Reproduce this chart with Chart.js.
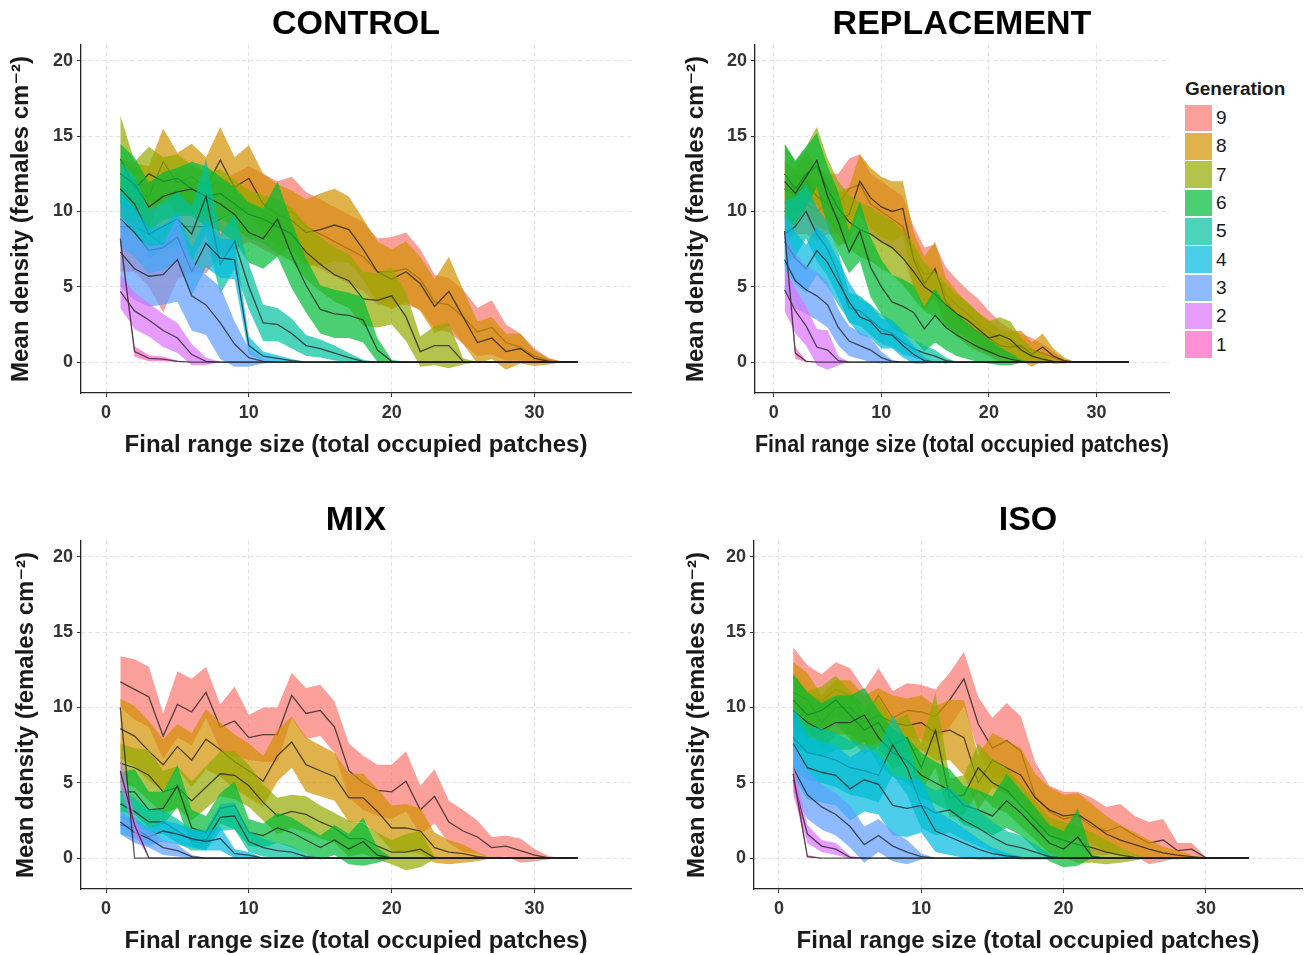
<!DOCTYPE html>
<html>
<head>
<meta charset="utf-8">
<title>Mean density vs final range size</title>
<script src="https://cdn.jsdelivr.net/npm/chart.js@4.4.1/dist/chart.umd.min.js"></script>
<style>
  html, body { margin: 0; padding: 0; background: #fff; }
  body { position: relative; width: 1306px; height: 955px; overflow: hidden;
         font-family: "Liberation Sans", Arial, sans-serif; }
  .panel { position: absolute; }
  #legend { position: absolute; left: 1185px; top: 78px; color: #1a1a1a; }
  #legend .ttl { font-size: 19px; font-weight: bold; height: 26px; line-height: 22px; }
  #legend .row { display: flex; align-items: center; height: 28.3px; }
  #legend .key { width: 27px; height: 26.5px; margin-right: 4px; }
  #legend .lab { font-size: 19px; }
</style>
</head>
<body>
<canvas id="control" class="panel" width="660" height="460" style="left:0;top:0"></canvas>
<canvas id="replacement" class="panel" width="500" height="460" style="left:675px;top:0"></canvas>
<canvas id="mix" class="panel" width="655" height="460" style="left:5px;top:496px"></canvas>
<canvas id="iso" class="panel" width="630" height="460" style="left:676px;top:496px"></canvas>
<div id="legend"><div class="ttl">Generation</div></div>

<script>
const FONT = '"Liberation Sans", "DejaVu Sans", Arial, sans-serif';

const generations = [1, 2, 3, 4, 5, 6, 7, 8, 9];
const genColors = ['#FF61C3', '#DB72FB', '#619CFF', '#00B9E3', '#00C19F',
                   '#00BA38', '#93AA00', '#D39200', '#F8766D'];
const xTicks = [0, 10, 20, 30];
const yTicks = [0, 5, 10, 15, 20];
const lastRangeSize = 33; // every mean line sits at 0 out to here

// mean density for range size 1, 2, 3 ... (one row per generation 1..9)
// and the half width of the ribbon around it
const controlMean = [
  [8.2, 0.7, 0.25, 0.2, 0.05],
  [4.7, 3.4, 2.8, 2.1, 1.6, 0.5, 0.05],
  [7.3, 6.2, 5.7, 5.8, 6.8, 4.4, 3.8, 2.6, 1.2, 0.3, 0.05],
  [9.5, 8.6, 7.4, 7.6, 8.3, 6.0, 7.9, 6.9, 6.8, 1.1, 0.4, 0.25, 0.1],
  [11.5, 10.5, 8.5, 9.0, 9.5, 8.5, 11.0, 6.5, 8.0, 5.0, 2.6, 2.5, 1.9, 1.1, 0.9, 0.6, 0.3, 0.05],
  [12.5, 11.8, 10.3, 11.0, 11.3, 11.5, 11.0, 10.5, 9.8, 8.6, 8.2, 9.5, 7.1, 5.1, 3.5, 3.2, 3.1, 2.8, 0.8, 0.05],
  [13.5, 11.5, 12.5, 12.0, 12.2, 11.5, 11.0, 11.2, 10.5, 9.8, 9.5, 9.0, 8.5, 7.3, 6.5, 5.8, 5.4, 4.2, 4.1, 4.4, 3.0, 0.7, 1.1, 1.1, 0.05],
  [11.5, 11.2, 11.0, 13.3, 11.9, 12.3, 11.6, 13.4, 11.6, 12.2, 10.5, 9.8, 9.4, 8.6, 8.8, 9.1, 8.8, 7.5, 6.0, 5.5, 6.0, 5.2, 3.7, 4.7, 3.0, 1.3, 1.6, 0.7, 0.9, 0.25, 0.05],
  [9.0, 9.0, 8.5, 7.8, 9.0, 9.0, 9.0, 9.5, 10.0, 10.5, 10.0, 9.5, 10.0, 9.0, 8.5, 8.0, 7.5, 7.0, 6.0, 6.0, 6.2, 5.5, 4.0, 3.8, 3.0, 2.0, 2.3, 1.3, 1.0, 0.4, 0.1]
];
const controlSpread = [
  [0.3, 0.35, 0.2, 0.15, 0.05],
  [1.1, 1.2, 1.1, 1.1, 1.0, 0.7, 0.25],
  [2.3, 2.1, 2.0, 2.0, 2.8, 2.3, 2.0, 2.4, 1.5, 0.6, 0.15],
  [1.8, 1.6, 1.5, 1.5, 1.6, 1.6, 1.6, 1.3, 1.3, 0.6, 0.3, 0.2, 0.1],
  [1.8, 1.8, 1.6, 1.6, 1.8, 1.8, 2.5, 2.0, 1.8, 1.5, 1.2, 1.1, 1.0, 0.7, 0.6, 0.5, 0.3, 0.1],
  [2.0, 1.8, 1.6, 1.6, 1.6, 1.8, 2.0, 1.8, 1.8, 2.0, 2.0, 2.5, 2.2, 1.8, 1.6, 1.6, 1.5, 1.5, 0.8, 0.1],
  [2.9, 1.8, 1.8, 1.6, 1.6, 1.6, 1.6, 1.6, 1.6, 1.6, 1.6, 1.8, 1.8, 1.8, 1.8, 1.8, 1.8, 1.8, 1.8, 1.9, 1.6, 1.0, 1.3, 1.5, 0.2],
  [2.0, 2.0, 2.0, 2.2, 2.0, 2.2, 2.0, 2.2, 2.0, 2.2, 2.0, 2.0, 2.0, 2.2, 2.4, 2.4, 2.2, 2.0, 2.0, 2.0, 2.0, 1.8, 1.8, 2.3, 1.8, 1.4, 1.4, 1.2, 1.0, 0.5, 0.2],
  [3.0, 3.0, 3.5, 4.5, 3.5, 3.0, 3.1, 2.5, 2.5, 2.5, 2.5, 2.5, 2.3, 2.3, 2.3, 2.3, 2.3, 2.3, 2.2, 2.3, 2.4, 2.0, 1.8, 1.8, 1.8, 1.6, 1.8, 1.2, 0.9, 0.5, 0.15]
];

const replacementMean = [
  [8.7, 0.6, 0.05],
  [4.8, 3.4, 2.4, 1.0, 0.8, 0.1],
  [6.8, 5.4, 4.8, 4.4, 3.8, 2.3, 1.4, 1.1, 0.8, 0.3, 0.05],
  [8.0, 6.9, 6.2, 7.4, 6.6, 5.3, 4.0, 3.0, 2.7, 1.9, 1.8, 1.1, 0.5, 0.1],
  [8.5, 9.0, 10.0, 8.5, 7.5, 5.8, 3.6, 3.4, 2.8, 2.2, 1.9, 1.3, 0.9, 0.6, 0.4, 0.1],
  [12.0, 11.2, 12.3, 13.4, 11.0, 9.3, 7.3, 8.7, 6.3, 5.0, 4.0, 3.7, 3.3, 2.2, 3.1, 2.3, 1.8, 1.4, 1.0, 0.7, 0.4, 0.2, 0.05],
  [12.5, 11.5, 12.5, 13.0, 11.5, 10.2, 9.3, 8.8, 8.5, 8.0, 7.6, 6.9, 6.0, 5.0, 4.5, 3.8, 3.2, 2.8, 2.2, 1.6, 1.8, 1.5, 0.8, 0.4, 0.2, 0.05],
  [11.5, 11.0, 12.0, 11.0, 10.5, 9.5, 9.8, 12.0, 10.9, 10.3, 10.0, 10.2, 6.8, 5.2, 6.2, 4.0, 3.2, 2.5, 2.0, 1.6, 1.1, 1.0, 1.1, 0.5, 1.0, 0.4, 0.1],
  [10.0, 10.5, 10.5, 10.0, 10.5, 10.5, 11.5, 11.8, 10.5, 10.0, 9.5, 9.0, 7.0, 5.8, 6.0, 4.5, 3.8, 3.2, 2.6, 2.0, 1.5, 1.2, 1.0, 0.8, 0.6, 0.3, 0.05]
];
const replacementSpread = [
  [0.3, 0.4, 0.05],
  [1.4, 1.5, 1.3, 1.2, 1.3, 0.3],
  [2.0, 1.8, 1.6, 1.6, 1.5, 1.2, 1.0, 0.9, 0.8, 0.4, 0.1],
  [1.8, 1.7, 1.6, 1.6, 1.6, 1.5, 1.3, 1.2, 1.1, 1.0, 0.9, 0.8, 0.6, 0.2],
  [2.2, 2.0, 1.8, 1.8, 1.8, 1.5, 1.0, 1.0, 1.0, 1.0, 0.9, 0.8, 0.6, 0.5, 0.4, 0.2],
  [2.5, 2.2, 2.0, 1.8, 2.0, 2.0, 1.4, 2.0, 2.0, 1.8, 1.8, 1.8, 1.8, 1.5, 1.8, 1.5, 1.4, 1.2, 1.0, 0.8, 0.6, 0.4, 0.1],
  [2.0, 1.8, 1.8, 2.6, 2.0, 1.8, 1.8, 1.8, 1.8, 1.8, 1.8, 1.8, 1.8, 1.6, 1.5, 1.4, 1.3, 1.2, 1.1, 1.1, 1.2, 1.2, 0.8, 0.5, 0.3, 0.1],
  [1.8, 1.8, 2.0, 2.0, 1.8, 1.8, 1.8, 1.8, 2.0, 2.0, 2.0, 1.8, 1.8, 1.8, 1.8, 1.6, 1.5, 1.4, 1.3, 1.2, 1.1, 1.0, 1.0, 0.8, 0.9, 0.5, 0.2],
  [2.0, 2.0, 2.0, 2.0, 2.0, 2.0, 2.0, 2.0, 2.0, 2.0, 2.0, 2.0, 2.0, 1.8, 1.8, 1.8, 1.7, 1.6, 1.6, 1.4, 1.2, 1.0, 0.9, 0.8, 0.6, 0.4, 0.1]
];

const mixMean = [
  [10.0, 0],
  [5.8, 2.2, 0.02],
  [2.4, 1.7, 1.3, 0.7, 0.5, 0.1],
  [2.2, 2.0, 1.4, 1.8, 1.6, 1.3, 1.1, 1.3, 0.3, 0.2],
  [3.6, 3.1, 2.4, 2.4, 1.8, 1.2, 1.2, 2.7, 2.8, 1.1, 0.7, 0.5, 0.4, 0.1],
  [4.4, 4.4, 3.2, 3.3, 4.8, 2.0, 1.7, 3.3, 3.5, 1.7, 1.5, 2.0, 1.7, 1.2, 0.7, 1.2, 0.6, 1.1, 0.2],
  [6.3, 6.0, 5.5, 4.4, 4.7, 3.8, 4.7, 5.6, 5.5, 4.8, 3.7, 2.8, 3.1, 2.9, 2.4, 2.0, 1.3, 1.3, 0.8, 0.4, 0.4, 0.6, 0.02],
  [8.6, 8.1, 7.1, 6.2, 7.4, 6.5, 7.9, 7.2, 6.4, 5.8, 5.1, 6.8, 7.7, 6.2, 5.8, 5.4, 4.0, 4.0, 3.1, 2.0, 2.0, 1.8, 0.7, 0.4, 0.3, 0.1],
  [11.7, 11.2, 10.7, 8.1, 10.2, 9.7, 11.0, 8.7, 9.1, 8.0, 8.2, 8.2, 10.8, 9.6, 9.8, 8.7, 5.8, 5.0, 4.5, 4.4, 5.1, 3.2, 4.1, 2.4, 1.8, 1.4, 0.7, 0.8, 0.5, 0.2, 0.02]
];
const mixSpread = [
  [0, 0],
  [1.0, 0.6, 0.02],
  [0.8, 0.7, 0.6, 0.5, 0.4, 0.1],
  [0.6, 0.7, 0.6, 0.7, 0.7, 0.6, 0.6, 0.8, 0.3, 0.2],
  [0.9, 0.9, 0.8, 0.8, 0.8, 0.7, 0.7, 0.9, 0.9, 0.7, 0.6, 0.5, 0.4, 0.2],
  [1.3, 1.5, 1.2, 1.1, 1.4, 1.2, 1.1, 1.0, 1.6, 0.9, 0.8, 1.0, 1.0, 0.9, 0.8, 1.0, 1.0, 1.6, 0.5],
  [1.3, 1.3, 1.7, 1.4, 1.4, 1.3, 1.4, 1.5, 1.6, 1.4, 1.2, 1.2, 1.1, 1.2, 1.1, 1.0, 1.2, 1.0, 0.9, 0.8, 1.2, 1.2, 0.1],
  [2.0, 2.0, 2.0, 1.7, 1.5, 1.8, 2.0, 1.8, 1.8, 1.8, 1.7, 1.7, 1.7, 1.8, 1.7, 1.6, 1.6, 1.6, 1.5, 1.5, 1.6, 1.5, 1.0, 0.8, 0.6, 0.3],
  [1.7, 2.0, 2.0, 1.5, 2.2, 2.2, 1.7, 1.5, 2.3, 1.5, 1.8, 1.8, 1.5, 1.7, 1.7, 1.7, 1.8, 1.8, 1.7, 1.8, 2.0, 1.6, 1.8, 1.4, 1.4, 1.1, 0.7, 0.7, 0.8, 0.4, 0.1]
];

const isoMean = [
  [5.6, 0.1],
  [5.2, 1.6, 0.8, 0.6, 0.05],
  [6.0, 4.2, 3.4, 2.9, 2.1, 0.9, 1.5, 0.8, 0.4, 0.1],
  [7.6, 6.0, 5.7, 5.5, 4.6, 5.2, 4.9, 3.5, 3.3, 3.5, 1.8, 1.4, 1.0, 0.6, 0.3, 0.15, 0.05],
  [8.0, 7.0, 6.8, 6.5, 6.0, 5.8, 5.5, 7.5, 6.0, 3.5, 3.0, 3.2, 2.5, 2.0, 1.4, 0.9, 0.7, 0.4, 0.1],
  [9.8, 9.0, 8.5, 9.0, 9.0, 9.5, 8.0, 7.0, 6.5, 5.5, 5.0, 4.5, 3.5, 3.2, 2.8, 3.8, 3.0, 2.0, 1.0, 0.6, 1.4, 0.1],
  [10.5, 9.5, 9.8, 10.5, 9.5, 8.5, 9.0, 7.5, 8.0, 6.0, 8.5, 4.0, 4.2, 6.0, 5.0, 4.5, 3.5, 2.5, 1.5, 1.2, 0.9, 0.7, 0.4, 0.2, 0.05],
  [11.0, 10.5, 9.0, 10.0, 10.0, 9.0, 9.5, 9.0, 8.8, 9.0, 8.3, 8.5, 8.0, 5.0, 6.5, 6.0, 5.5, 4.0, 3.2, 2.8, 2.9, 2.3, 1.6, 1.2, 0.9, 0.6, 0.35, 0.2, 0.1],
  [12.0, 11.0, 10.4, 11.2, 10.8, 9.4, 10.8, 9.3, 9.8, 9.7, 9.4, 10.5, 11.9, 8.9, 7.3, 7.8, 7.1, 4.1, 3.1, 2.6, 2.8, 2.1, 1.8, 2.1, 1.5, 1.0, 1.2, 0.5, 0.6, 0.02]
];
const isoSpread = [
  [0.7, 0.1],
  [1.0, 0.6, 0.4, 0.4, 0.1],
  [1.6, 1.6, 1.5, 1.4, 1.4, 1.2, 1.1, 1.0, 0.8, 0.2],
  [2.2, 2.1, 2.0, 2.0, 2.1, 2.1, 2.0, 2.0, 1.9, 1.8, 1.4, 1.2, 1.0, 0.7, 0.4, 0.2, 0.05],
  [2.0, 1.8, 1.8, 1.8, 1.8, 1.8, 1.8, 2.0, 1.8, 1.5, 1.5, 1.5, 1.3, 1.2, 1.0, 0.9, 0.8, 0.5, 0.2],
  [2.4, 2.0, 1.8, 1.8, 1.8, 1.8, 1.8, 1.6, 1.5, 1.5, 1.4, 1.4, 1.3, 1.3, 1.3, 1.8, 1.5, 1.4, 1.2, 1.2, 1.9, 0.1],
  [1.8, 1.6, 1.6, 1.6, 1.6, 1.6, 1.6, 1.6, 1.6, 1.6, 2.5, 1.3, 1.3, 1.6, 1.6, 1.5, 1.4, 1.3, 1.2, 1.2, 1.2, 1.0, 0.8, 0.5, 0.2],
  [2.0, 1.8, 1.8, 1.8, 1.8, 1.8, 1.8, 1.8, 1.8, 1.8, 1.8, 2.0, 2.5, 1.8, 1.8, 1.8, 1.8, 1.6, 1.5, 1.4, 1.4, 1.3, 1.2, 1.0, 0.8, 0.6, 0.4, 0.3, 0.1],
  [2.0, 1.8, 1.8, 1.8, 1.8, 1.8, 1.8, 1.8, 1.8, 1.8, 1.8, 1.8, 1.8, 1.8, 2.0, 2.5, 2.3, 2.3, 1.7, 1.8, 1.6, 1.9, 1.6, 1.5, 1.3, 1.4, 1.4, 0.5, 0.4, 0.05]
];

function rgba(hex, a) {
  const n = parseInt(hex.slice(1), 16);
  return `rgba(${n >> 16},${(n >> 8) & 255},${n & 255},${a})`;
}

// ribbon = lower line + upper line filled down to it, then the mean line;
// generation 9 is drawn first, generation 1 ends up on top
function buildDatasets(means, spreads) {
  const sets = [];
  generations.forEach((g, i) => {
    const m = means[i], s = spreads[i];
    const mean = [], lo = [], hi = [];
    for (let x = 1; x <= lastRangeSize; x++) {
      const v = m[x - 1] ?? 0;
      const d = s[x - 1] ?? 0;
      mean.push({x, y: v});
      lo.push({x, y: v - d});
      hi.push({x, y: v + d});
    }
    sets.push({label: 'lo' + g, data: lo, borderColor: 'transparent', borderWidth: 0,
               pointRadius: 0, fill: false, order: 2 * g + 1});
    sets.push({label: 'Gen ' + g, data: hi, borderColor: 'transparent', borderWidth: 0,
               backgroundColor: rgba(genColors[i], 0.7), pointRadius: 0, fill: '-1', order: 2 * g + 1});
    sets.push({label: 'mean' + g, data: mean, borderColor: 'rgba(30,30,30,0.75)', borderWidth: 1.3,
               pointRadius: 0, fill: false, order: 2 * g});
  });
  return sets;
}

const tickFont = {family: FONT, size: 18, weight: 'bold'};
const titleFont = {family: FONT, size: 24, weight: 'bold'};

function makePanel(id, name, means, spreads, yWidth, padRight) {
  new Chart(document.getElementById(id), {
    type: 'line',
    data: {datasets: buildDatasets(means, spreads)},
    options: {
      responsive: false,
      animation: false,
      events: [],
      layout: {padding: {left: 0, right: padRight, top: 0, bottom: 0}},
      plugins: {
        legend: {display: false},
        tooltip: {enabled: false},
        title: {display: true, text: name, fullSize: false, color: '#000',
                font: {family: FONT, size: 34, weight: 'bold'}, padding: {top: 4.1, bottom: 0.1}}
      },
      scales: {
        x: {
          type: 'linear', min: -1.75, max: 36.75,
          afterBuildTicks: ax => { ax.ticks = xTicks.map(v => ({value: v})); },
          afterFit: ax => { ax.height = 67; },
          ticks: {font: tickFont, color: '#333', padding: 5, maxRotation: 0, autoSkip: false},
          grid: {color: '#e2e2e2', lineWidth: 1, tickColor: '#333', tickLength: 4, tickWidth: 1},
          border: {color: '#222', width: 1.3, dash: [4, 3]},
          title: {display: true, text: 'Final range size (total occupied patches)', color: '#1a1a1a',
                  font: titleFont, padding: {top: 0, bottom: 0.6}}
        },
        y: {
          type: 'linear', min: -2.05, max: 21.05,
          afterBuildTicks: ax => { ax.ticks = yTicks.map(v => ({value: v})); },
          afterFit: ax => { ax.width = yWidth; },
          ticks: {font: tickFont, color: '#333', padding: 4},
          grid: {color: '#e2e2e2', lineWidth: 1, tickColor: '#333', tickLength: 4, tickWidth: 1},
          border: {color: '#222', width: 1.3, dash: [4, 3]},
          title: {display: true, text: 'Mean density (females cm\u207B\u00B2)', color: '#1a1a1a',
                  font: titleFont, padding: {top: 6.6, bottom: 0}}
        }
      }
    }
  });
}

makePanel('control', 'CONTROL', controlMean, controlSpread, 81, 29);
makePanel('replacement', 'REPLACEMENT', replacementMean, replacementSpread, 80, 6);
makePanel('mix', 'MIX', mixMean, mixSpread, 76, 29);
makePanel('iso', 'ISO', isoMean, isoSpread, 78, 4);

// legend, 9 at the top
const legend = document.getElementById('legend');
generations.slice().reverse().forEach(g => {
  const row = document.createElement('div');
  row.className = 'row';
  const key = document.createElement('div');
  key.className = 'key';
  key.style.background = rgba(genColors[g - 1], 0.7);
  const lab = document.createElement('span');
  lab.className = 'lab';
  lab.textContent = g;
  row.appendChild(key);
  row.appendChild(lab);
  legend.appendChild(row);
});
</script>
</body>
</html>
